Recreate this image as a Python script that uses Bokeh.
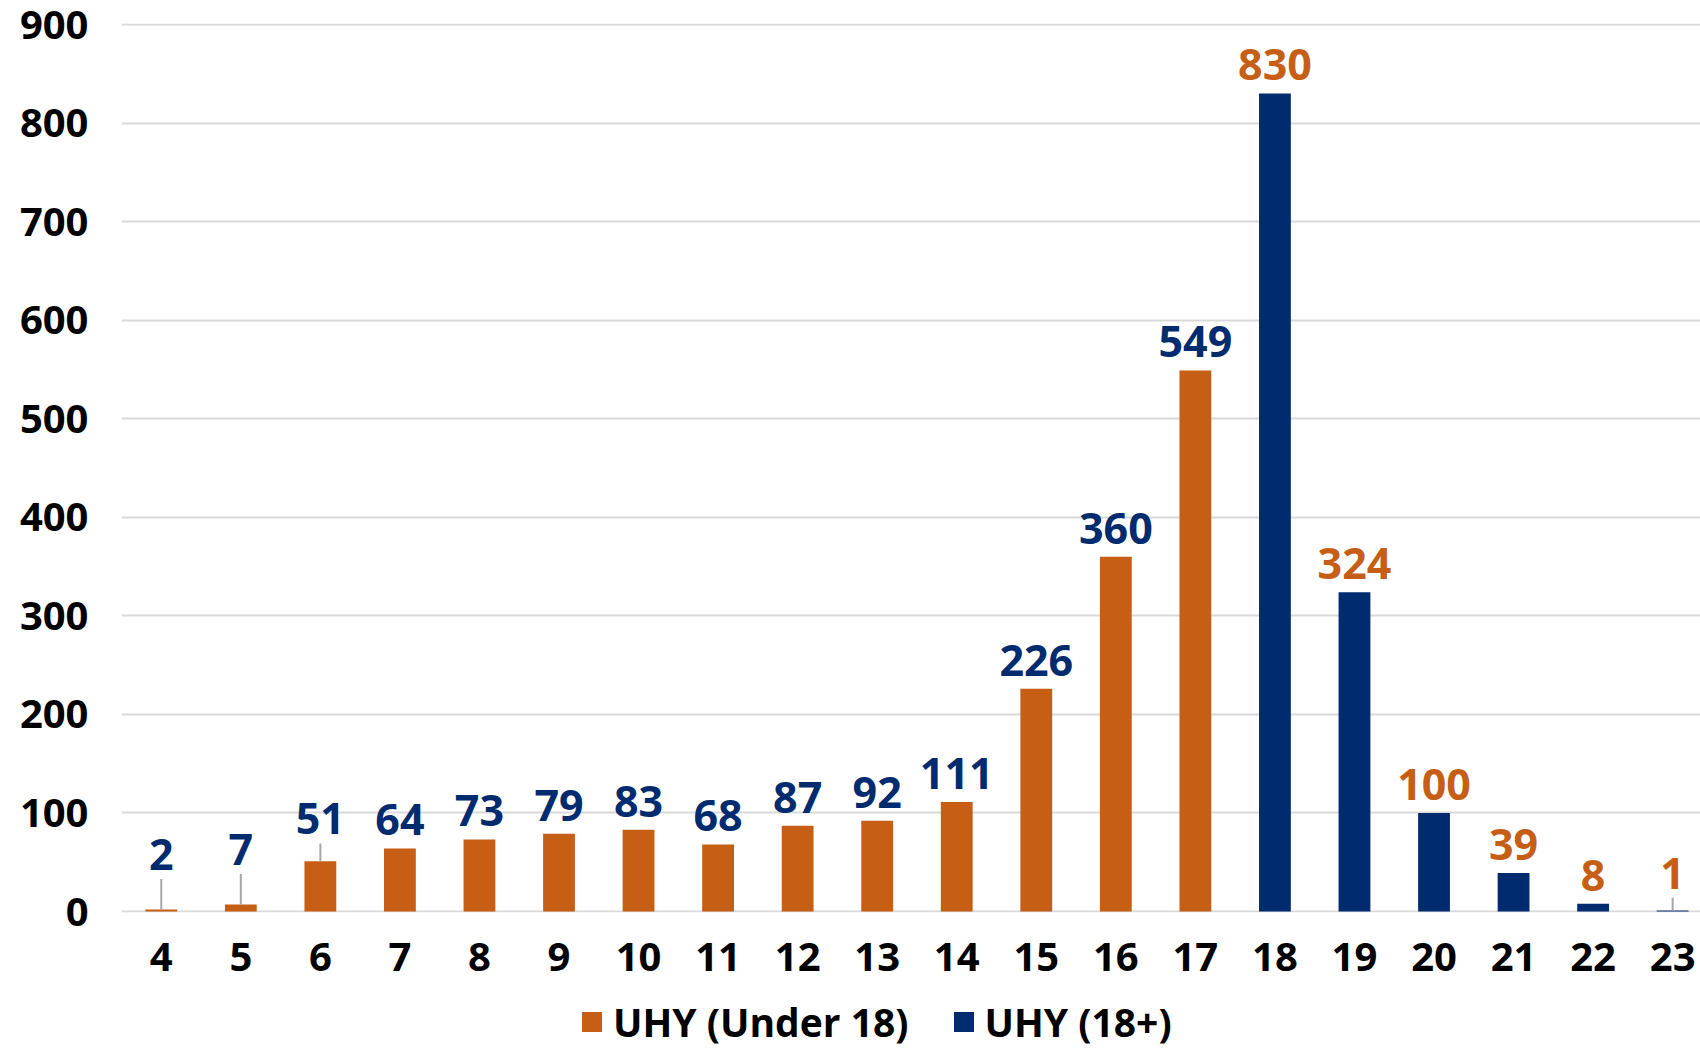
from bokeh.plotting import figure
from bokeh.layouts import column
from bokeh.models import Range1d, FixedTicker, Legend, LegendItem, ColumnDataSource
from bokeh.core.properties import value
from bokeh.embed import file_html
from bokeh.resources import INLINE

# ---- data ----
ages_under18 = [4, 5, 6, 7, 8, 9, 10, 11, 12, 13, 14, 15, 16, 17]
counts_under18 = [2, 7, 51, 64, 73, 79, 83, 68, 87, 92, 111, 226, 360, 549]
ages_adult = [18, 19, 20, 21, 22, 23]
counts_adult = [830, 324, 100, 39, 8, 1]
y_tick_values = [0, 100, 200, 300, 400, 500, 600, 700, 800, 900]
series_names = ["UHY (Under 18)", "UHY (18+)"]

# ---- styles ----
ORANGE = "#C65E16"
NAVY = "#002B6E"
GRID = "#D9D9D9"
LEADER = "#A6A6A6"
FONT = "Open Sans"
label_gap = 15            # ink gap above bar top (data units ≈ px)
text_shift = 14           # baseline correction for rendered text
leader_lift = {4: 42, 5: 42, 6: 29, 23: 24}   # labels pulled up with a leader line

TOP = 23
FRAME_H = 889
FRAME_W = 1579
LEFT = 121
BOTTOM = 82
TOTAL_H = 1048

p = figure(frame_width=FRAME_W, frame_height=FRAME_H,
           x_range=Range1d(3.5, 23.35), y_range=Range1d(-1, 901),
           output_backend="svg", toolbar_location=None,
           min_border_left=LEFT, min_border_right=0, min_border_top=TOP,
           min_border_bottom=BOTTOM)
p.outline_line_color = None
p.background_fill_color = "white"
p.border_fill_color = "white"

# grid
p.xgrid.grid_line_color = None
p.ygrid.grid_line_color = GRID
p.ygrid.grid_line_width = 2
p.ygrid.ticker = FixedTicker(ticks=y_tick_values)

# axes
all_ages = ages_under18 + ages_adult
p.xaxis.ticker = FixedTicker(ticks=all_ages)
p.yaxis.ticker = FixedTicker(ticks=y_tick_values)
for ax in (p.xaxis[0], p.yaxis[0]):
    ax.axis_line_color = None
    ax.major_tick_line_color = None
    ax.minor_tick_line_color = None
    ax.major_tick_in = 0
    ax.major_tick_out = 0
    ax.major_label_text_font = FONT
    ax.major_label_text_font_style = "bold"
    ax.major_label_text_font_size = "40px"
    ax.major_label_text_color = "black"
p.yaxis.major_label_standoff = 33
p.xaxis.major_label_standoff = 30

# bars
src_u = ColumnDataSource(dict(x=ages_under18, top=counts_under18))
src_a = ColumnDataSource(dict(x=ages_adult, top=counts_adult))
p.vbar(x="x", top="top", width=0.4, source=src_u, fill_color=ORANGE, line_color=None)
p.vbar(x="x", top="top", width=0.4, source=src_a, fill_color=NAVY, line_color=None)

# labels and leader lines
for ages, counts, col in ((ages_under18, counts_under18, NAVY), (ages_adult, counts_adult, ORANGE)):
    ink = [c + leader_lift.get(a, label_gap) for a, c in zip(ages, counts)]
    p.text(x=ages, y=[v + text_shift for v in ink], text=[str(c) for c in counts],
           text_font=value(FONT), text_font_style="bold", text_font_size="43px",
           text_color=col, text_align="center", text_baseline="alphabetic")
    lx, l0, l1 = [], [], []
    for a, c, y in zip(ages, counts, ink):
        if a in leader_lift:
            lx.append(a); l0.append(c); l1.append(y - 11)
    if lx:
        p.segment(x0=lx, y0=l0, x1=lx, y1=l1, line_color=LEADER, line_width=2)

# ---- legend strip (separate figure under the chart; frames are aligned) ----
leg_h = TOTAL_H - (TOP + FRAME_H + BOTTOM)
pl = figure(width=LEFT + FRAME_W, height=leg_h, output_backend="svg",
            toolbar_location=None, x_axis_location=None, y_axis_location=None,
            x_range=Range1d(0, 1), y_range=Range1d(0, 1),
            min_border_left=0, min_border_right=0, min_border_top=0, min_border_bottom=0)
pl.outline_line_color = None
pl.xgrid.grid_line_color = None
pl.ygrid.grid_line_color = None
# proxy renderers (same series, lying outside this strip's ranges) for the legend swatches
lr_u = pl.vbar(x="x", top="top", width=0.4, source=src_u, fill_color=ORANGE, line_color=None)
lr_a = pl.vbar(x="x", top="top", width=0.4, source=src_a, fill_color=NAVY, line_color=None)
legend = Legend(items=[LegendItem(label=series_names[0], renderers=[lr_u], index=0),
                       LegendItem(label=series_names[1], renderers=[lr_a], index=0)],
                orientation="horizontal", location=(458, 0),
                label_text_font=FONT, label_text_font_style="bold",
                label_text_font_size="39px", label_text_color="black",
                glyph_width=25, glyph_height=25, label_standoff=9,
                spacing=42, padding=0, margin=0,
                border_line_color=None, background_fill_alpha=0)
pl.add_layout(legend, "center")

layout = column(p, pl, spacing=0)
open("out.html", "w").write(file_html(layout, INLINE))
